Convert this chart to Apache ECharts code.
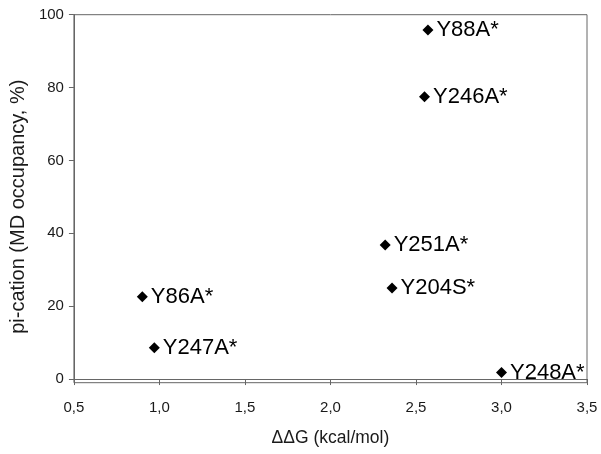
<!DOCTYPE html>
<html>
<head>
<meta charset="utf-8">
<script src="https://cdn.jsdelivr.net/npm/echarts@6/dist/echarts.min.js"></script>
<style>html,body{margin:0;padding:0;background:#fff;}#c{width:601px;height:454px;}</style>
</head>
<body>
<div id="c"></div>
<script>
var names = ['Y88A*', 'Y246A*', 'Y251A*', 'Y204S*', 'Y86A*', 'Y247A*', 'Y248A*'];
var ddG = [2.57, 2.55, 2.32, 2.36, 0.90, 0.97, 3.00];
var occupancy = [95.8, 77.5, 36.8, 25.0, 22.6, 8.6, 1.8];
var yTicks = [0, 20, 40, 60, 80, 100];

var pts = names.map(function (n, i) { return [ddG[i], occupancy[i], n]; });
var font = 'Liberation Sans, Arial, sans-serif';
var chart = echarts.init(document.getElementById('c'), null, {renderer: 'canvas'});
chart.setOption({
  animation: false,
  backgroundColor: '#ffffff',
  grid: {left: 72.7, top: 14.7, right: 14, bottom: 71.3, show: true, borderColor: '#666', borderWidth: 1},
  xAxis: {
    type: 'value', min: 0.5, max: 3.5, interval: 0.5,
    name: 'ΔΔG (kcal/mol)', nameLocation: 'middle', nameGap: 46,
    nameTextStyle: {fontFamily: font, fontSize: 17.5, color: '#1a1a1a'},
    axisLine: {show: true, lineStyle: {color: '#666', width: 1}},
    axisTick: {show: true, inside: false, length: 6, lineStyle: {color: '#666'}},
    axisLabel: {fontFamily: font, fontSize: 15, color: '#1a1a1a', margin: 18,
      formatter: function (v) { return v.toFixed(1).replace('.', ','); }},
    splitLine: {show: false}
  },
  yAxis: {
    type: 'value', min: -1, max: 100,
    name: 'pi-cation (MD occupancy, %)', nameLocation: 'middle', nameGap: 42, nameRotate: 90,
    nameTextStyle: {fontFamily: font, fontSize: 20, color: '#1a1a1a', padding: [0, 16, 0, 0]},
    axisLine: {show: true, lineStyle: {color: '#666', width: 1}},
    axisTick: {show: true, inside: false, length: 5, lineStyle: {color: '#666'}, customValues: yTicks},
    axisLabel: {fontFamily: font, fontSize: 15, color: '#1a1a1a', margin: 10, customValues: yTicks},
    splitLine: {show: false}
  },
  series: [{
    type: 'scatter',
    data: pts,
    symbol: 'diamond',
    symbolSize: 11,
    itemStyle: {color: '#000', opacity: 1},
    label: {show: true, position: 'right', distance: 3, fontFamily: font, fontSize: 22, color: '#000',
      formatter: function (p) { return p.data[2]; }}
  }]
});
</script>
</body>
</html>
